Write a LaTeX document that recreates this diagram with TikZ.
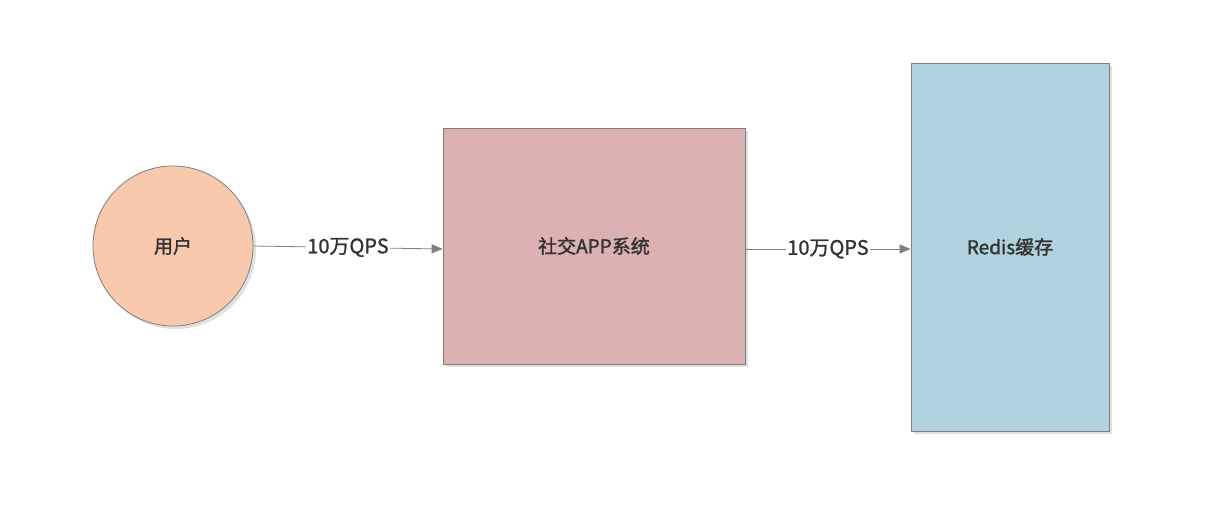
\documentclass[tikz,border=0pt]{standalone}
\usepackage{fontspec}
\setmainfont{Noto Sans CJK SC}
\newfontfamily\midfont{Noto Sans CJK SC}[FakeBold=1.6]
\newfontfamily\edgefont{Noto Sans CJK SC}[FakeBold=1.2]
\usetikzlibrary{arrows.meta,shadows}
\definecolor{userfill}{HTML}{F9C9AE}
\definecolor{appfill}{HTML}{DCB1B2}
\definecolor{redisfill}{HTML}{B1D3DF}
\definecolor{edgegray}{HTML}{7F7F7F}
\definecolor{textgray}{HTML}{333333}
\tikzset{
box/.style={
  draw=edgegray,line width=0.8pt,text=textgray,
  drop shadow={shadow xshift=3pt,shadow yshift=-3pt,fill=black!12,opacity=1},
  font=\fontsize{19}{22}\midfont},
flow/.style={
  draw=edgegray,line width=0.8pt,-{Triangle[length=11pt,width=9pt]}},
qps/.style={fill=white,inner sep=1pt,text=textgray,font=\fontsize{20}{23}\edgefont}}

\begin{document}
\begin{tikzpicture}[x=1pt,y=-1pt]
\useasboundingbox (0,0) rectangle (1212,518);
\node[box,circle,fill=userfill,minimum size=160pt] (user) at (173,246) {用户};
\node[box,rectangle,fill=appfill,minimum width=302pt,minimum height=236pt] (app) at (594,246) {社交APP系统};
\node[box,rectangle,fill=redisfill,minimum width=198pt,minimum height=368pt] (redis) at (1010,247) {Redis缓存};
% arrows
\draw[flow] (user.east) -- node[qps] {10万QPS} ([yshift=-3pt]app.west);
\draw[flow] ([yshift=-3pt]app.east) -- node[qps] {10万QPS} ([yshift=-2pt]redis.west);
\end{tikzpicture}
\end{document}
